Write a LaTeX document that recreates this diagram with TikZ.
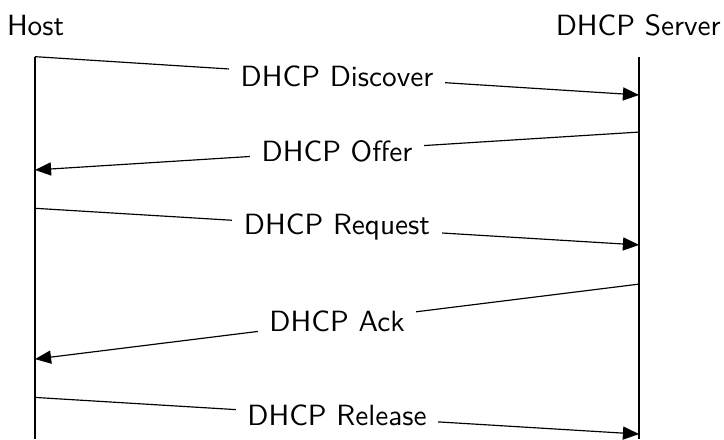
\documentclass[tikz,border=0pt]{standalone}
\usetikzlibrary{arrows.meta}

\begin{document}
\begin{tikzpicture}[
    font=\sffamily,
    lifeline/.style={thin},
    msgarrow/.style={thin, -{Triangle[length=5.5pt, width=4.5pt]}},
    msglabel/.style={fill=white, inner sep=4pt}
]
    \useasboundingbox (0,0) rectangle (8.69,-5.27);

    % ==========================================
    % 1. PARTICIPANTS
    % ==========================================
    \node[anchor=west] (host) at (-0.04,-0.30) {Host};
    \node (server) at (7.66,-0.30) {DHCP Server};

    \coordinate (hostTop) at (0.42,-0.68);
    \coordinate (hostBot) at (0.42,-5.27);
    \coordinate (serverTop) at (7.67,-0.68);
    \coordinate (serverBot) at (7.67,-5.27);

    \draw[lifeline] (hostTop) -- (hostBot);
    \draw[lifeline] (serverTop) -- (serverBot);

    % ==========================================
    % 2. MESSAGE END POINTS
    % ==========================================
    \coordinate (discoverA) at (0.42,-0.68);
    \coordinate (discoverB) at (7.67,-1.14);
    \coordinate (offerA) at (7.67,-1.585);
    \coordinate (offerB) at (0.42,-2.04);
    \coordinate (requestA) at (0.42,-2.50);
    \coordinate (requestB) at (7.67,-2.94);
    \coordinate (ackA) at (7.67,-3.41);
    \coordinate (ackB) at (0.42,-4.31);
    \coordinate (releaseA) at (0.42,-4.77);
    \coordinate (releaseB) at (7.67,-5.21);

    % ==========================================
    % 3. MESSAGES
    % ==========================================
    \draw[msgarrow] (discoverA) -- node[msglabel] (discover) {DHCP Discover} (discoverB);
    \draw[msgarrow] (offerA) -- node[msglabel] (offer) {DHCP Offer} (offerB);
    \draw[msgarrow] (requestA) -- node[msglabel] (request) {DHCP Request} (requestB);
    \draw[msgarrow] (ackA) -- node[msglabel] (ack) {DHCP Ack} (ackB);
    \draw[msgarrow] (releaseA) -- node[msglabel] (release) {DHCP Release} (releaseB);

\end{tikzpicture}
\end{document}
